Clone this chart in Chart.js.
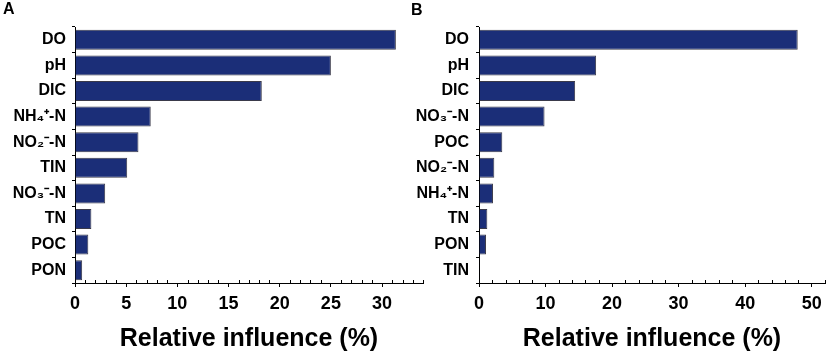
<!DOCTYPE html>
<html>
<head>
<meta charset="utf-8">
<script src="https://cdn.jsdelivr.net/npm/chart.js@4.4.1/dist/chart.umd.min.js"></script>
<style>
  html, body { margin: 0; padding: 0; background: #fff; }
  body { width: 829px; height: 357px; position: relative; overflow: hidden; font-family: "Liberation Sans", Arial, sans-serif; }
  canvas { position: absolute; top: 0; }
  #cA { left: 0; }
  #cB { left: 410px; }
  .panel { position: absolute; font-weight: bold; font-size: 16px; line-height: 16px; color: #000; }
</style>
</head>
<body>
<canvas id="cA" width="430" height="357" style="width:430px;height:357px"></canvas>
<canvas id="cB" width="419" height="357" style="width:419px;height:357px"></canvas>
<div class="panel" style="left:3px;top:1px">A</div>
<div class="panel" style="left:411px;top:2px">B</div>
<script>
const categoriesA = ['DO', 'pH', 'DIC', 'NH\u2084\u207A-N', 'NO\u2082\u207B-N', 'TIN', 'NO\u2083\u207B-N', 'TN', 'POC', 'PON'];
const valuesA = [31.35, 25.0, 18.25, 7.4, 6.2, 5.1, 2.95, 1.6, 1.3, 0.7];
const categoriesB = ['DO', 'pH', 'DIC', 'NO\u2083\u207B-N', 'POC', 'NO\u2082\u207B-N', 'NH\u2084\u207A-N', 'TN', 'PON', 'TIN'];
const valuesB = [47.9, 17.6, 14.45, 9.85, 3.5, 2.3, 2.1, 1.25, 1.05, 0.1];
const axisMaxA = 34, majorStepA = 5, minorStepA = 1;
const axisMaxB = 52, majorStepB = 10, minorStepB = 2;
const axisTitle = 'Relative influence (%)';

const FONT = '"Liberation Sans", Arial, sans-serif';
const BAR_COLOR = '#1b2e78';
const BAR_BORDER = '#3a3a4a';

const minorTicks = {
  id: 'minorTicks',
  afterDraw(chart, args, opts) {
    const x = chart.scales.x;
    const ctx = chart.ctx;
    const y0 = chart.chartArea.bottom;
    ctx.save();
    ctx.strokeStyle = '#000';
    ctx.lineWidth = 1;
    for (let v = 0; v <= opts.max + 1e-9; v += opts.step) {
      if (Math.abs(v / opts.major - Math.round(v / opts.major)) < 1e-9) continue;
      const px = Math.round(x.getPixelForValue(v)) + 0.5;
      ctx.beginPath();
      ctx.moveTo(px, y0 - 3);
      ctx.lineTo(px, y0);
      ctx.stroke();
    }
    ctx.restore();
  }
};

function makeChart(id, cats, vals, max, major, minor, yWidth, yPad, padRight) {
  return new Chart(document.getElementById(id), {
    type: 'bar',
    data: {
      labels: cats,
      datasets: [{
        data: vals,
        backgroundColor: BAR_COLOR,
        borderColor: BAR_BORDER,
        borderWidth: 1,
        categoryPercentage: 1.0,
        barPercentage: 0.78
      }]
    },
    options: {
      indexAxis: 'y',
      responsive: false,
      animation: false,
      events: [],
      layout: { padding: { top: 27, right: padRight, bottom: 0, left: 0 } },
      plugins: {
        legend: { display: false },
        tooltip: { enabled: false },
        minorTicks: { max: max, step: minor, major: major }
      },
      scales: {
        x: {
          type: 'linear',
          min: 0,
          max: max,
          afterFit(scale) { scale.height = 74; },
          afterBuildTicks(scale) {
            const t = [];
            for (let v = 0; v <= max + 1e-9; v += major) t.push({ value: v });
            scale.ticks = t;
          },
          ticks: {
            stepSize: major,
            color: '#000',
            padding: 6,
            maxRotation: 0,
            autoSkip: false,
            font: { family: FONT, size: 18, weight: 'bold' }
          },
          grid: { drawOnChartArea: false, tickLength: 4, color: '#000', tickColor: '#000' },
          border: { display: true, color: '#000', width: 1 },
          title: {
            display: true,
            text: axisTitle,
            color: '#000',
            padding: { top: 10, bottom: 3 },
            font: { family: FONT, size: 25, weight: 'bold' }
          }
        },
        y: {
          type: 'category',
          offset: true,
          afterFit(scale) { scale.width = yWidth; },
          ticks: {
            color: '#000',
            padding: yPad,
            font: { family: FONT, size: 16, weight: 'bold' }
          },
          grid: { offset: true, drawOnChartArea: false, tickLength: 3, color: '#000', tickColor: '#000' },
          border: { display: true, color: '#000', width: 1 }
        }
      }
    },
    plugins: [minorTicks]
  });
}

makeChart('cA', categoriesA, valuesA, axisMaxA, majorStepA, minorStepA, 75, 6, 7);
makeChart('cB', categoriesB, valuesB, axisMaxB, majorStepB, minorStepB, 69, 7, 4);
</script>
</body>
</html>
